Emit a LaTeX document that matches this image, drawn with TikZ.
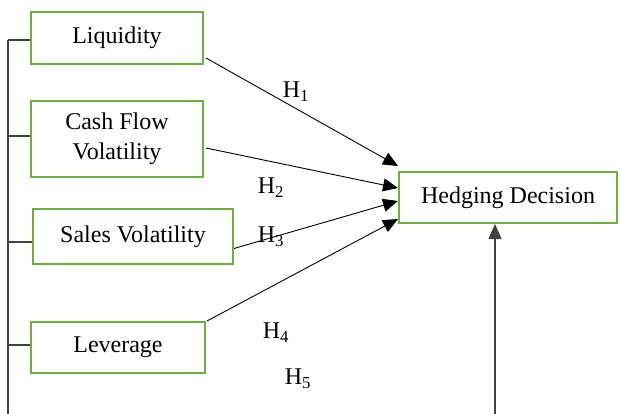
\documentclass[tikz,border=0pt]{standalone}
\usepackage{fontspec}
\setmainfont{Liberation Serif}
\usetikzlibrary{arrows.meta}
\definecolor{boxgreen}{HTML}{70AD47}
\definecolor{linegrey}{HTML}{404040}
\tikzset{
  varbox/.style={draw=boxgreen, line width=2pt, inner sep=0pt, align=center,
    font=\fontsize{24}{30}\selectfont},
  hlabel/.style={font=\fontsize{24}{28}\selectfont, inner sep=0pt},
  tip/.style={-{Triangle[length=15pt,width=13pt]}},
  link/.style={draw=black, line width=0.9pt, tip},
  frame/.style={draw=linegrey, line width=1.2pt},
}
\begin{document}
\begin{tikzpicture}[x=1pt, y=-1pt]
\useasboundingbox (0,0) rectangle (620,414);
% boxes
\node[varbox, minimum width=172pt, minimum height=52pt] (liq) at (117,38) {Liquidity};
\node[varbox, minimum width=172pt, minimum height=76pt] (cash) at (117,139) {Cash Flow\\Volatility};
\node[varbox, minimum width=200pt, minimum height=55pt] (sales) at (133,236.5) {Sales Volatility};
\node[varbox, minimum width=174pt, minimum height=51pt] (lev) at (118,347.5) {Leverage};
\node[varbox, minimum width=218pt, minimum height=51pt] (hed) at (508,197.5) {Hedging Decision};
% left bracket line
\coordinate (vtop) at (8,40);
\coordinate (vbot) at (8,414);
\coordinate (t1) at (8,40);
\coordinate (t2) at (8,136);
\coordinate (t3) at (8,242);
\coordinate (t4) at (8,345);
\draw[frame] (vtop) -- (vbot);
\draw[frame] (t1) -- (t1 -| liq.west);
\draw[frame] (t2) -- (t2 -| cash.west);
\draw[frame] (t3) -- (t3 -| sales.west);
\draw[frame] (t4) -- (t4 -| lev.west);
% arrows to decision
\draw[link] ([xshift=2pt,yshift=7pt]liq.south east) -- ([yshift=5pt]hed.north west);
\draw[link] ([xshift=2pt,yshift=-9pt]cash.east) -- ([yshift=9.5pt]hed.west);
\draw[link] ([xshift=0pt,yshift=-12pt]sales.east) -- ([yshift=-3.5pt]hed.west);
\draw[link] ([xshift=1pt]lev.north east) -- ([yshift=5pt]hed.south west);
% bottom arrow
\coordinate (b) at (495,414);
\draw[frame, tip] (b) -- (b |- hed.south);
% labels
\node[hlabel] (h1) at (296,92) {H\textsubscript{1}};
\node[hlabel] (h2) at (271,188) {H\textsubscript{2}};
\node[hlabel] (h3) at (271,237) {H\textsubscript{3}};
\node[hlabel] (h4) at (276,333) {H\textsubscript{4}};
\node[hlabel] (h5) at (298,379) {H\textsubscript{5}};
\end{tikzpicture}
\end{document}
